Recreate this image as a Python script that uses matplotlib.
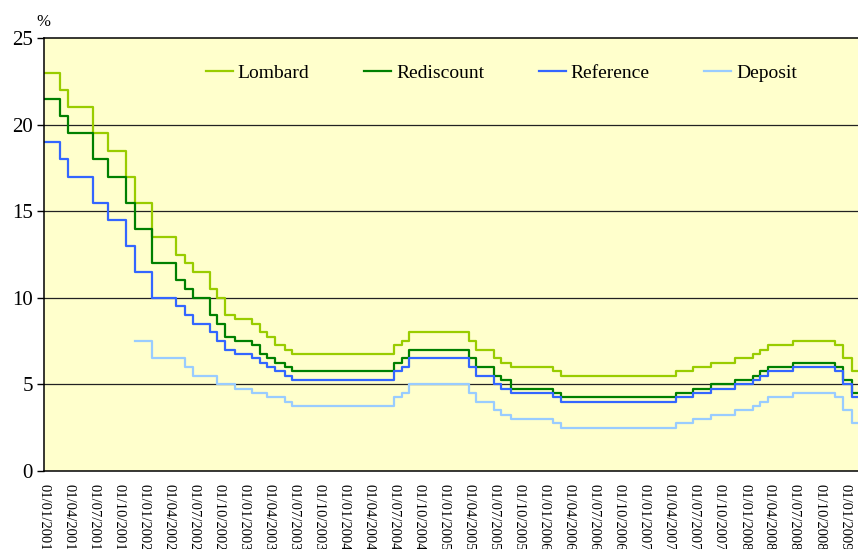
import pandas as pd
import numpy as np
import matplotlib
matplotlib.use("Agg")
import matplotlib.pyplot as plt

# NBP rate decision dates and levels (%)
change_dates = [
    "2001-01-01", "2001-02-28", "2001-03-29", "2001-06-28", "2001-08-23", "2001-10-26", "2001-11-29",
    "2002-01-31", "2002-04-26", "2002-05-30", "2002-06-27", "2002-08-29", "2002-09-26", "2002-10-24", "2002-11-28",
    "2003-01-30", "2003-02-27", "2003-03-27", "2003-04-24", "2003-05-29", "2003-06-26",
    "2004-06-30", "2004-07-29", "2004-08-26",
    "2005-03-31", "2005-04-28", "2005-06-30", "2005-07-28", "2005-08-31",
    "2006-01-31", "2006-03-01",
    "2007-04-26", "2007-06-28", "2007-08-30", "2007-11-29",
    "2008-01-31", "2008-02-28", "2008-03-27", "2008-06-26", "2008-11-27", "2008-12-24",
    "2009-01-28",
]
end_date = "2009-02-18"

lombard = [23.0, 22.0, 21.0, 19.5, 18.5, 17.0, 15.5,
           13.5, 12.5, 12.0, 11.5, 10.5, 10.0, 9.0, 8.75,
           8.5, 8.0, 7.75, 7.25, 7.0, 6.75,
           7.25, 7.5, 8.0,
           7.5, 7.0, 6.5, 6.25, 6.0,
           5.75, 5.5,
           5.75, 6.0, 6.25, 6.5,
           6.75, 7.0, 7.25, 7.5, 7.25, 6.5,
           5.75]
rediscount = [21.5, 20.5, 19.5, 18.0, 17.0, 15.5, 14.0,
              12.0, 11.0, 10.5, 10.0, 9.0, 8.5, 7.75, 7.5,
              7.25, 6.75, 6.5, 6.25, 6.0, 5.75,
              6.25, 6.5, 7.0,
              6.5, 6.0, 5.5, 5.25, 4.75,
              4.5, 4.25,
              4.5, 4.75, 5.0, 5.25,
              5.5, 5.75, 6.0, 6.25, 6.0, 5.25,
              4.5]
reference = [19.0, 18.0, 17.0, 15.5, 14.5, 13.0, 11.5,
             10.0, 9.5, 9.0, 8.5, 8.0, 7.5, 7.0, 6.75,
             6.5, 6.25, 6.0, 5.75, 5.5, 5.25,
             5.75, 6.0, 6.5,
             6.0, 5.5, 5.0, 4.75, 4.5,
             4.25, 4.0,
             4.25, 4.5, 4.75, 5.0,
             5.25, 5.5, 5.75, 6.0, 5.75, 5.0,
             4.25]
deposit = [np.nan, np.nan, np.nan, np.nan, np.nan, np.nan, 7.5,
           6.5, 6.5, 6.0, 5.5, 5.5, 5.0, 5.0, 4.75,
           4.5, 4.5, 4.25, 4.25, 4.0, 3.75,
           4.25, 4.5, 5.0,
           4.5, 4.0, 3.5, 3.25, 3.0,
           2.75, 2.5,
           2.75, 3.0, 3.25, 3.5,
           3.75, 4.0, 4.25, 4.5, 4.25, 3.5,
           2.75]

series = [("Lombard", lombard, "#99CC00"),
          ("Rediscount", rediscount, "#008000"),
          ("Reference", reference, "#3366FF"),
          ("Deposit", deposit, "#99CCFF")]

plt.rcParams['font.family'] = ['Liberation Serif', 'DejaVu Serif']

dates = pd.to_datetime(change_dates + [end_date])

fig = plt.figure(figsize=(8.58, 5.49), dpi=100)
ax = fig.add_axes([44 / 858, 1 - 471 / 549, 1 - 44 / 858, 433 / 549])
ax.set_facecolor("#FFFFCC")

for name, vals, col in series:
    y = list(vals) + [vals[-1]]
    ax.step(dates, y, where="post", color=col, lw=1.6, label=name)

ax.set_ylim(0, 25)
ax.set_yticks([0, 5, 10, 15, 20, 25])
ax.set_xlim(pd.Timestamp("2001-01-01"), pd.Timestamp(end_date))
for v in [5, 10, 15, 20]:
    ax.axhline(v, color="#222222", lw=0.9, zorder=0)

ticks = pd.date_range("2001-01-01", "2009-01-01", freq="QS")
ax.set_xticks(ticks)
ax.set_xticklabels([t.strftime("%d/%m/%Y") for t in ticks], rotation=-90,
                   fontsize=10.5, va="top", ha="center")
ax.tick_params(axis="x", length=0, pad=9)
ax.tick_params(axis="y", length=5, width=1, labelsize=15, direction="out", pad=3)

ax.spines["right"].set_visible(False)
for s in ["left", "bottom", "top"]:
    ax.spines[s].set_linewidth(1.1)

fig.text(36 / 858, 1 - 22 / 549, "%", fontsize=12, va="center", ha="left")

ax.legend(loc="center", bbox_to_anchor=(0.562, 0.919), ncol=4, frameon=False,
          fontsize=14, handlelength=1.4, handletextpad=0.25, columnspacing=2.8)

fig.savefig("out.png", dpi=100)
